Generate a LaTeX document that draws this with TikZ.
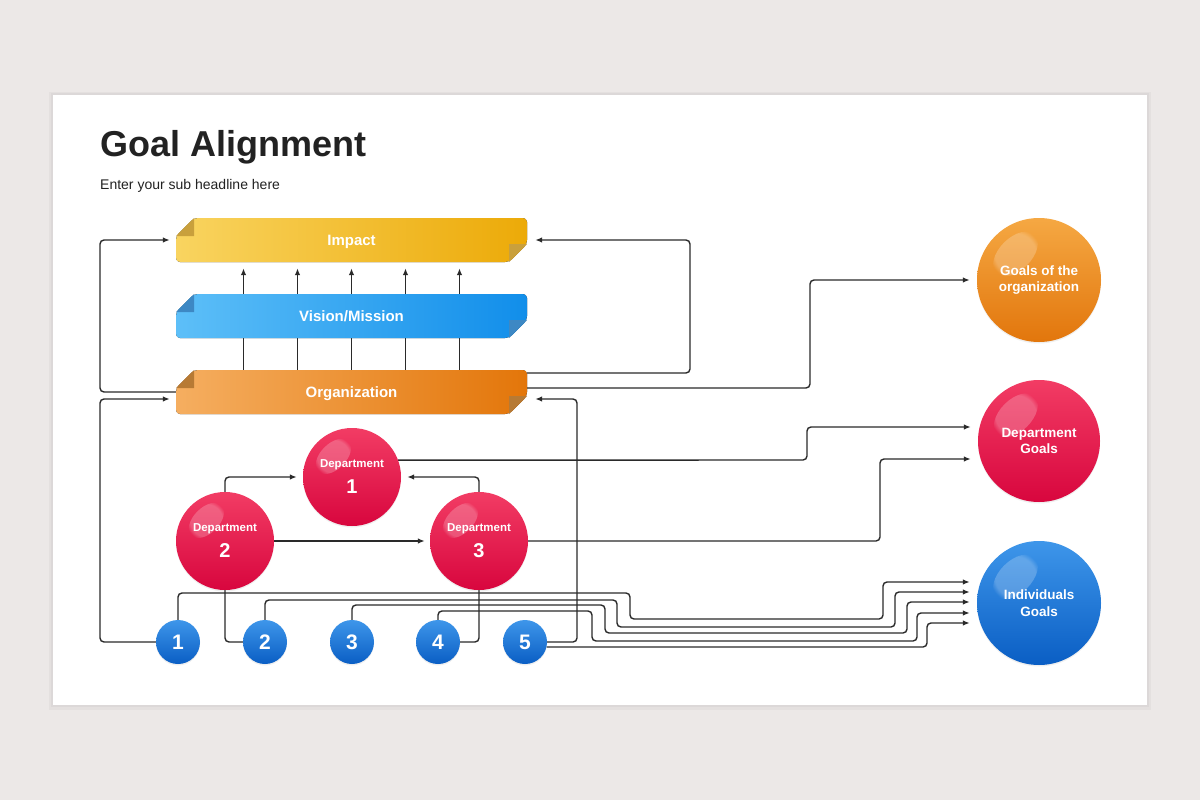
\documentclass[tikz,border=0pt]{standalone}
\usepackage{fontspec}
\setmainfont{Liberation Sans}
\usetikzlibrary{calc,arrows.meta,shadows,fadings}
\pgfdeclarelayer{bg}
\pgfdeclarelayer{lines}
\pgfsetlayers{bg,lines,main}
\definecolor{bgout}{HTML}{ECE8E7}
\definecolor{lineC}{HTML}{2A2A2A}
\definecolor{titleC}{HTML}{222222}
\definecolor{impL}{HTML}{F9D460}
\definecolor{impD}{HTML}{ECAA08}
\definecolor{impF}{HTML}{C9A03C}
\definecolor{visL}{HTML}{5DBFF8}
\definecolor{visD}{HTML}{118EEA}
\definecolor{visF}{HTML}{3D88C4}
\definecolor{orgL}{HTML}{F5AE60}
\definecolor{orgD}{HTML}{E3760A}
\definecolor{orgF}{HTML}{B77A34}
\definecolor{redL}{HTML}{F23C64}
\definecolor{redD}{HTML}{D8063E}
\definecolor{oraL}{HTML}{F5A843}
\definecolor{oraD}{HTML}{E2760C}
\definecolor{bluL}{HTML}{3E96EA}
\definecolor{bluD}{HTML}{0A5EC4}
\tikzset{
  conn/.style={draw=lineC, line width=1.4pt, rounded corners=4pt},
  arr/.style={conn, -{Latex[length=7pt,width=5.5pt]}},
  ribtext/.style={minimum width=351pt, minimum height=44pt, inner sep=0pt, text=white,
     text height=10.5pt, text depth=0pt, font=\bfseries\fontsize{15}{18}\selectfont},
  ball/.style={circle, inner sep=0pt, minimum size=#1, text=white, shading angle=45,
     drop shadow={shadow xshift=0pt, shadow yshift=-1.5pt, opacity=0.12}},
  redball/.style={ball=#1, top color=redL, bottom color=redD},
  oraball/.style={ball=#1, top color=oraL, bottom color=oraD},
  bluball/.style={ball=#1, top color=bluL, bottom color=bluD},
  deptxt/.style={align=center, font=\bfseries\fontsize{20}{26}\selectfont},
  goaltxt/.style={align=center, font=\bfseries\fontsize{13.5}{16.5}\selectfont},
  numtxt/.style={font=\bfseries\fontsize{21}{24}\selectfont}
}
\newcommand\ribbon[6]{%
  \fill[left color=#3, right color=#4, rounded corners=4pt]
    (194,#2-22) -- (527,#2-22) -- (527,#2+4) -- (509,#2+22) -- (176,#2+22) -- (176,#2-4) -- cycle;
  \fill[#5] (176,#2-4) -- (194,#2-22) -- (194,#2-4) -- cycle;
  \fill[#5] (509,#2+4) -- (527,#2+4) -- (509,#2+22) -- cycle;
  \node[ribtext] (#1) at (351.5,#2) {#6};
}
\newcommand\gloss[2]{%
  \begin{scope}[shift={($(#1.center)+(-0.38*#2,-0.42*#2)$)}, rotate=45]
    \fill[white, opacity=0.22, path fading={circle with fuzzy edge 20 percent}]
      (0,0) ellipse ({0.44*#2} and {0.26*#2});
  \end{scope}
}
\begin{document}
\begin{tikzpicture}[x=1pt,y=-1pt]
\begin{pgfonlayer}{bg}
  \fill[bgout] (0,0) rectangle (1200,800);
  \fill[black, opacity=0.03] (49,92) rectangle (1151,710);
  \fill[black, opacity=0.03] (51,93) rectangle (1149,707);
  \fill[white] (53,95) rectangle (1147,705);
\end{pgfonlayer}
\useasboundingbox (0,0) rectangle (1200,800);

% title
\node[anchor=base west, inner sep=0pt, text=titleC, font=\bfseries\fontsize{36}{40}\selectfont] (title) at (100,156) {Goal Alignment};
\node[anchor=base west, inner sep=0pt, text=titleC, font=\fontsize{14}{17}\selectfont] (sub) at (100,189) {Enter your sub headline here};

% ribbons
\ribbon{imp}{240}{impL}{impD}{impF}{Impact}
\ribbon{vis}{316}{visL}{visD}{visF}{Vision/Mission}
\ribbon{org}{392}{orgL}{orgD}{orgF}{Organization}

% department circles
\node[redball=98pt, deptxt] (d1) at (352,477) {{\fontsize{11.5}{26}\selectfont Department}\\1};
\node[redball=98pt, deptxt] (d2) at (225,541) {{\fontsize{11.5}{26}\selectfont Department}\\2};
\node[redball=98pt, deptxt] (d3) at (479,541) {{\fontsize{11.5}{26}\selectfont Department}\\3};
\gloss{d1}{49}\gloss{d2}{49}\gloss{d3}{49}

% goal circles
\node[oraball=124pt, goaltxt] (go) at (1039,280) {Goals of the\\organization};
\node[redball=122pt, goaltxt] (dg) at (1039,441) {Department\\Goals};
\node[bluball=124pt, goaltxt] (ig) at (1039,603) {Individuals\\Goals};
\gloss{go}{62}\gloss{dg}{61}\gloss{ig}{62}

% individual circles
\node[bluball=44pt, numtxt] (c1) at (178,642) {1};
\node[bluball=44pt, numtxt] (c2) at (265,642) {2};
\node[bluball=44pt, numtxt] (c3) at (352,642) {3};
\node[bluball=44pt, numtxt] (c4) at (438,642) {4};
\node[bluball=44pt, numtxt] (c5) at (525,642) {5};

\begin{pgfonlayer}{lines}
  \foreach \dx in {-108,-54,0,54,108}
    \draw[arr, shorten >=6pt] ($(org.north)+(\dx,0)$) -- ($(imp.south)+(\dx,0)$);
  % left loops
  \draw[arr, shorten >=6pt] (org.west) -- (100,392) |- (imp.west);
  \draw[arr, shorten >=6pt] (c1.west) -- (100,642) |- ($(org.west)+(0,7)$);
  % right loops
  \draw[arr, shorten >=8pt] ($(org.east)+(0,-19)$) -- (690,373) |- (imp.east);
  \draw[arr, shorten >=7pt] ($(org.east)+(0,-4)$) -- (810,388) |- (go.west);
  \draw[arr, shorten >=8pt] (c5.east) -- (577,642) |- ($(org.east)+(0,7)$);
  % departments
  \draw[arr, shorten >=6pt] (d2.north) |- (d1.west);
  \draw[arr, shorten >=6pt] (d3.north) |- (d1.east);
  \draw[arr, shorten >=5pt] (d2.east) -- (d3.west);
  \draw[arr, shorten >=7pt] (d1.20) -- (807,460) |- ($(dg.west)+(0,-14)$);
  \draw[arr, shorten >=7pt] (d3.east) -- (880,541) |- ($(dg.west)+(0,18)$);
  \draw[conn] (d2.south) |- (c2.west);
  \draw[conn] (d3.south) |- (c4.east);
  % bundle to individuals goals
  \draw[arr] (c1.north) |- (630,593) |- (883,619) |- ($(ig.west)+(-7,-21)$);
  \draw[arr] (c2.north) |- (617,600) |- (895,627) |- ($(ig.west)+(-7,-11)$);
  \draw[arr] (c3.north) |- (605,605) |- (907,633) |- ($(ig.west)+(-7,-1)$);
  \draw[arr] (c4.north) |- (592,611) |- (917,641) |- ($(ig.west)+(-7,10)$);
  \draw[arr] (c5.-13) -- (927,647) |- ($(ig.west)+(-7,20)$);
\end{pgfonlayer}
\end{tikzpicture}
\end{document}
